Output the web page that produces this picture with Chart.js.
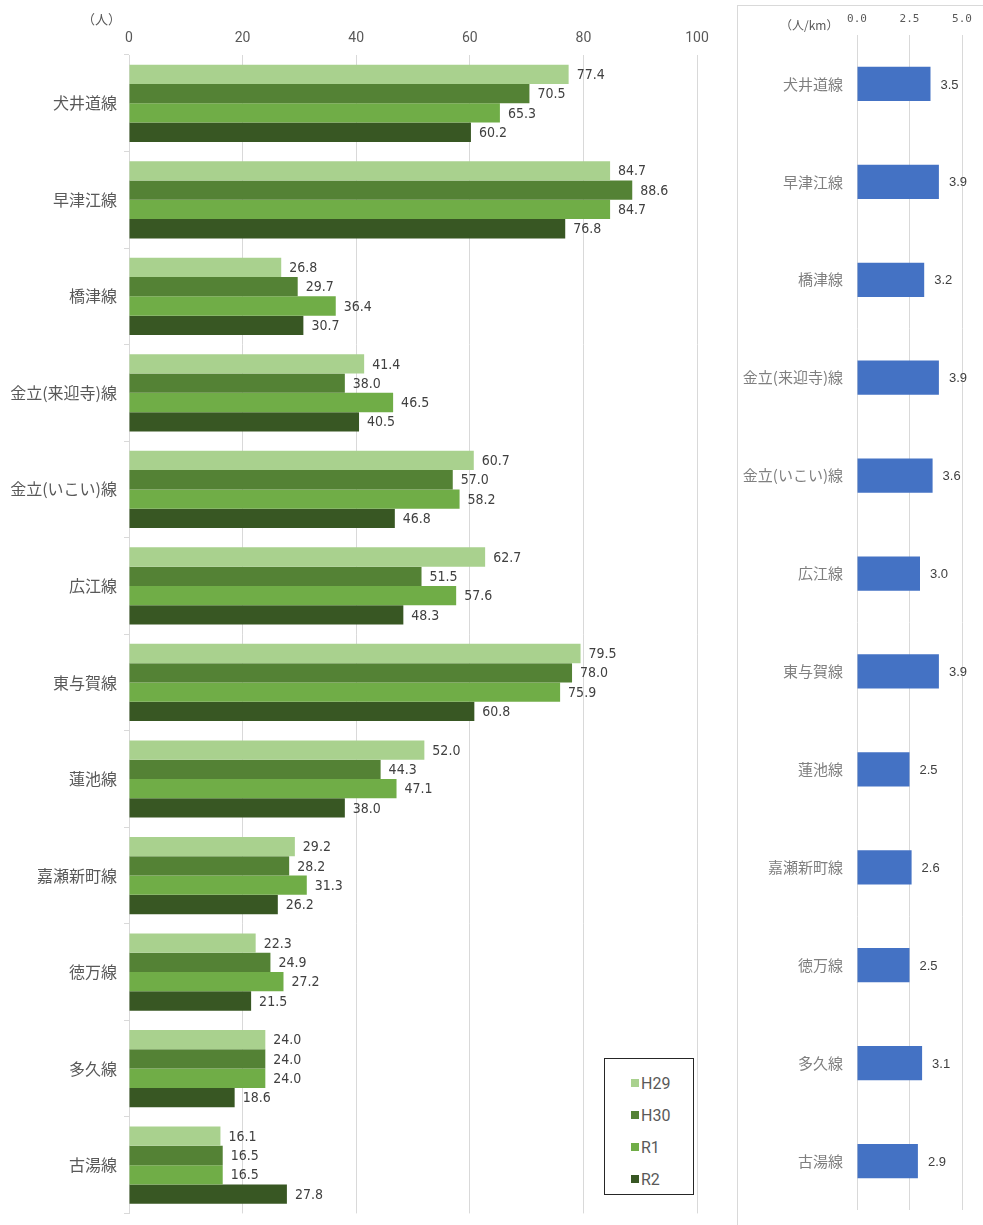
<!DOCTYPE html>
<html>
<head>
<meta charset="utf-8">
<script src="https://cdn.jsdelivr.net/npm/chart.js@4"></script>
<style>
  body { margin: 0; background: #fff; font-family: "Noto Sans CJK JP", sans-serif; }
  #wrap { position: relative; width: 983px; height: 1225px; overflow: hidden; }
  #leftBox { position: absolute; left: 0; top: 0; width: 735px; height: 1230px; }
  #rightBox { position: absolute; left: 737px; top: 5px; width: 250px; height: 1230px; border: 1px solid #d9d9d9; box-sizing: border-box; }
  .unit { position: absolute; color: #595959; font-size: 13px; }
  #legend { position: absolute; left: 604px; top: 1058px; width: 90px; height: 137px; border: 1px solid #262626; box-sizing: border-box; background: #fff; padding-top: 8px; }
  .lg { display: flex; align-items: center; height: 32px; padding-left: 26px; color: #595959; font-size: 16px; font-family: "Liberation Sans Narrow", "Roboto", sans-serif; }
  .lg span.sw { width: 8px; height: 8px; margin-right: 2px; display: inline-block; }
</style>
</head>
<body>
<div id="wrap">
  <div id="leftBox"><canvas id="rideChart" width="735" height="1230"></canvas></div>
  <div class="unit" style="left:82px; top:9px;">（人）</div>
  <div id="rightBox"><canvas id="perKmChart" width="248" height="1228"></canvas></div>
  <div class="unit" style="left:780px; top:16px; font-size:12px;">（人/km）</div>
  <div id="legend"></div>
</div>
<script>
// routes
const routes = ['犬井道線', '早津江線', '橋津線', '金立(来迎寺)線', '金立(いこい)線', '広江線',
  '東与賀線', '蓮池線', '嘉瀬新町線', '徳万線', '多久線', '古湯線'];

// riders per trip, by year
const seriesNames = ['H29', 'H30', 'R1', 'R2'];
const h29 = [77.4, 84.7, 26.8, 41.4, 60.7, 62.7, 79.5, 52.0, 29.2, 22.3, 24.0, 16.1];
const h30 = [70.5, 88.6, 29.7, 38.0, 57.0, 51.5, 78.0, 44.3, 28.2, 24.9, 24.0, 16.5];
const r1 = [65.3, 84.7, 36.4, 46.5, 58.2, 57.6, 75.9, 47.1, 31.3, 27.2, 24.0, 16.5];
const r2 = [60.2, 76.8, 30.7, 40.5, 46.8, 48.3, 60.8, 38.0, 26.2, 21.5, 18.6, 27.8];
const seriesColors = ['#A9D18E', '#548235', '#70AD47', '#385723'];

// riders per km (R2)
const perKm = [3.5, 3.9, 3.2, 3.9, 3.6, 3.0, 3.9, 2.5, 2.6, 2.5, 3.1, 2.9];

const leftTicks = [0, 20, 40, 60, 80, 100];
const rightTicks = [0.0, 2.5, 5.0];

// draws the value next to each bar end
const valueLabels = {
  id: 'valueLabels',
  afterDatasetsDraw(chart, args, opts) {
    const ctx = chart.ctx;
    ctx.save();
    ctx.font = opts.font;
    ctx.fillStyle = opts.color;
    ctx.textBaseline = 'middle';
    ctx.textAlign = 'left';
    chart.data.datasets.forEach(function (ds, i) {
      chart.getDatasetMeta(i).data.forEach(function (bar, j) {
        ctx.fillText(ds.data[j].toFixed(1), bar.x + opts.offset, bar.y + 1);
      });
    });
    ctx.restore();
  }
};

const allSeries = [h29, h30, r1, r2];
var leftChart = new Chart(document.getElementById('rideChart'), {
  type: 'bar',
  data: {
    labels: routes,
    datasets: allSeries.map(function (d, i) {
      return { label: seriesNames[i], data: d, backgroundColor: seriesColors[i],
        categoryPercentage: 0.8, barPercentage: 1.0 };
    })
  },
  options: {
    indexAxis: 'y',
    responsive: false,
    animation: false,
    devicePixelRatio: 1,
    layout: { padding: { left: 0, right: 38, top: 0, bottom: 0 } },
    scales: {
      x: {
        position: 'top',
        min: 0, max: 100,
        afterBuildTicks: function (s) { s.ticks = leftTicks.map(function (v) { return { value: v }; }); },
        afterFit: function (s) { s.height = 55; },
        grid: { color: '#d9d9d9', drawTicks: false },
        border: { display: false },
        ticks: { color: '#595959', padding: 8, maxRotation: 0, font: { size: 14, family: 'Liberation Sans Narrow, Roboto, sans-serif' } }
      },
      y: {
        afterFit: function (s) { s.width = 129; },
        grid: { offset: true, drawOnChartArea: false, drawTicks: true, tickLength: 5, color: '#d9d9d9' },
        border: { display: true, color: '#d9d9d9' },
        ticks: { color: '#595959', padding: 7, autoSkip: false, font: { size: 16, family: 'Noto Sans CJK JP' } }
      }
    },
    plugins: {
      legend: { display: false },
      tooltip: { enabled: false },
      valueLabels: { font: '14px "Liberation Sans Narrow", "DejaVu Sans Condensed", sans-serif', color: '#404040', offset: 8 }
    }
  },
  plugins: [valueLabels]
});

// legend built from the chart's own datasets
var lgHtml = '';
leftChart.data.datasets.forEach(function (ds) {
  lgHtml += '<div class="lg"><span class="sw" style="background:' + ds.backgroundColor + '"></span>' + ds.label + '</div>';
});
document.getElementById('legend').innerHTML = lgHtml;

new Chart(document.getElementById('perKmChart'), {
  type: 'bar',
  data: {
    labels: routes,
    datasets: [{ label: '人/km', data: perKm, backgroundColor: '#4472C4',
      categoryPercentage: 1.0, barPercentage: 0.35 }]
  },
  options: {
    indexAxis: 'y',
    responsive: false,
    animation: false,
    devicePixelRatio: 1,
    layout: { padding: { left: 0, right: 24, top: 0, bottom: 24 } },
    scales: {
      x: {
        position: 'top',
        min: 0, max: 5,
        afterBuildTicks: function (s) { s.ticks = rightTicks.map(function (v) { return { value: v }; }); },
        afterFit: function (s) { s.height = 29; },
        grid: { color: '#d9d9d9', drawTicks: false },
        border: { display: false },
        ticks: { color: '#595959', padding: 9, maxRotation: 0, font: { size: 11, family: 'DejaVu Sans Mono' },
          callback: function (v) { return Number(v).toFixed(1); } }
      },
      y: {
        afterFit: function (s) { s.width = 119; },
        grid: { display: false },
        border: { display: false },
        ticks: { color: '#7f7f7f', padding: 6, autoSkip: false, font: { size: 15, family: 'Noto Sans CJK JP' } }
      }
    },
    plugins: {
      legend: { display: false },
      tooltip: { enabled: false },
      valueLabels: { font: '13px "Liberation Sans", sans-serif', color: '#404040', offset: 10 }
    }
  },
  plugins: [valueLabels]
});
</script>
</body>
</html>
